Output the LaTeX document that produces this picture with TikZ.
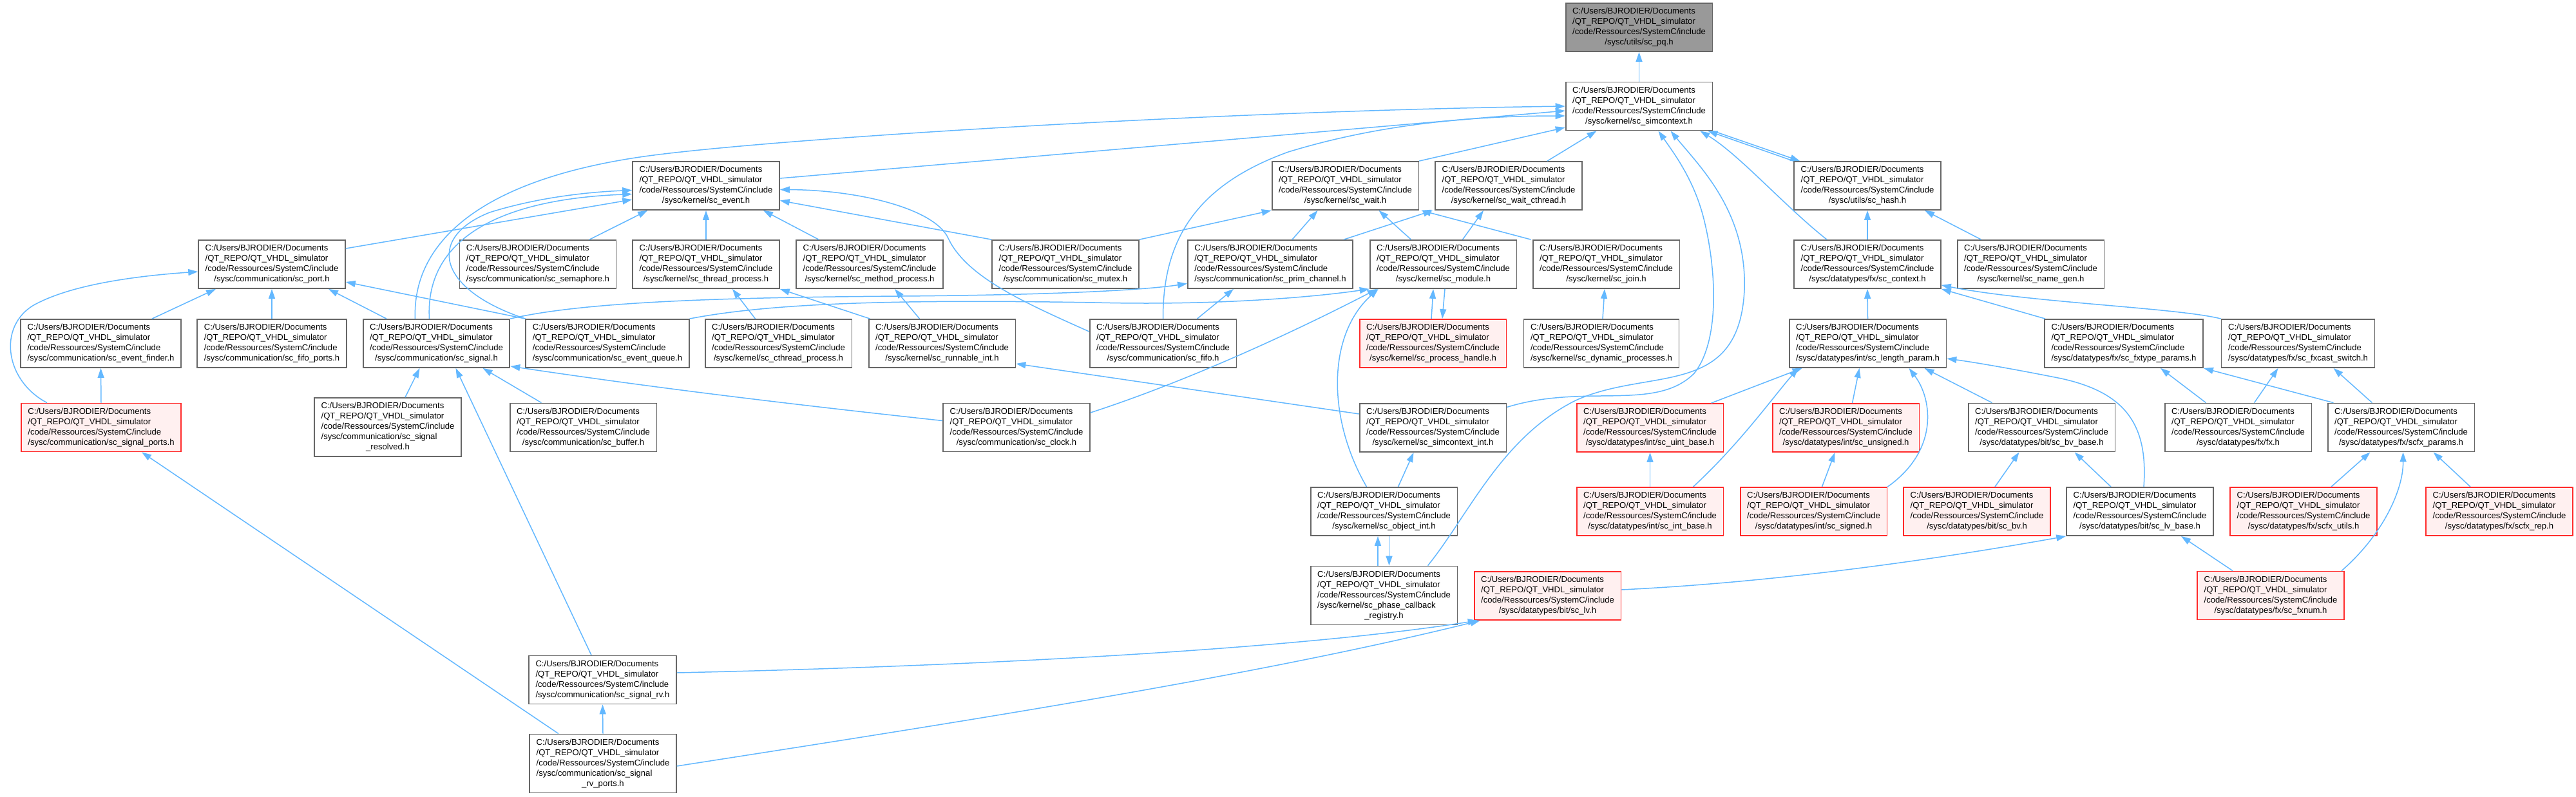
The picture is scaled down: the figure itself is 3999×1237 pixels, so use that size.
\documentclass[tikz,border=0pt]{standalone}
\usepackage{fontspec}
\newfontfamily\lbfont{Liberation Sans}
\usetikzlibrary{arrows.meta}
\definecolor{edgeblue}{HTML}{63B8FF}
\definecolor{boxgray}{HTML}{666666}
\definecolor{boxred}{HTML}{FF2A2A}
\definecolor{redfill}{HTML}{FFF0F0}
\definecolor{rootfill}{HTML}{999999}
\newcommand\pathlbl[1]{\begin{tabular}{@{}l@{}}C:/Users/BJRODIER/Documents\\/QT\_REPO/QT\_VHDL\_simulator\\/code/Ressources/SystemC/include\\\multicolumn{1}{@{}c@{}}{#1}\end{tabular}}
\newcommand\pathlblii[2]{\begin{tabular}{@{}l@{}}C:/Users/BJRODIER/Documents\\/QT\_REPO/QT\_VHDL\_simulator\\/code/Ressources/SystemC/include\\#1\\\multicolumn{1}{@{}c@{}}{#2}\end{tabular}}
\begin{document}
\begin{tikzpicture}[x=1pt,y=-1pt,
  fbox/.style={draw=boxgray, line width=1.8pt, fill=white, inner xsep=10.5pt, inner ysep=5.5pt,
    font={\lbfont\fontsize{13.1}{16}\selectfont}, anchor=center},
  redbox/.style={fbox, draw=boxred, fill=redfill},
  rootbox/.style={fbox, fill=rootfill},
  dep/.style={draw=edgeblue, line width=1.5pt, -{Triangle[length=15pt,width=10pt]}}]
\useasboundingbox (0,0) rectangle (3999,1237);
\fill[white] (0,0) rectangle (3999,1237);
% row 0-2
\node[rootbox] (pq) at (2544.5,42.5) {\pathlbl{/sysc/utils/sc\_pq.h}};
\node[fbox] (simcontext) at (2544.5,165) {\pathlbl{/sysc/kernel/sc\_simcontext.h}};
\node[fbox] (event) at (1096,288.5) {\pathlbl{/sysc/kernel/sc\_event.h}};
\node[fbox] (wait) at (2088.5,288.5) {\pathlbl{/sysc/kernel/sc\_wait.h}};
\node[fbox] (waitcth) at (2342,288.5) {\pathlbl{/sysc/kernel/sc\_wait\_cthread.h}};
\node[fbox] (hash) at (2899,288.5) {\pathlbl{/sysc/utils/sc\_hash.h}};
% row 3
\node[fbox] (port) at (422,410.5) {\pathlbl{/sysc/communication/sc\_port.h}};
\node[fbox] (semaphore) at (835,410.5) {\pathlbl{/sysc/communication/sc\_semaphore.h}};
\node[fbox] (threadproc) at (1096,410.5) {\pathlbl{/sysc/kernel/sc\_thread\_process.h}};
\node[fbox] (methodproc) at (1350,410.5) {\pathlbl{/sysc/kernel/sc\_method\_process.h}};
\node[fbox] (mutex) at (1654,410.5) {\pathlbl{/sysc/communication/sc\_mutex.h}};
\node[fbox] (primch) at (1972,410.5) {\pathlbl{/sysc/communication/sc\_prim\_channel.h}};
\node[fbox] (module) at (2240.5,410.5) {\pathlbl{/sysc/kernel/sc\_module.h}};
\node[fbox] (join) at (2493.5,410.5) {\pathlbl{/sysc/kernel/sc\_join.h}};
\node[fbox] (context) at (2899,410.5) {\pathlbl{/sysc/datatypes/fx/sc\_context.h}};
\node[fbox] (namegen) at (3152.5,410.5) {\pathlbl{/sysc/kernel/sc\_name\_gen.h}};
% row 4
\node[fbox] (evfinder) at (156.5,533.5) {\pathlbl{/sysc/communication/sc\_event\_finder.h}};
\node[fbox] (fifoports) at (422,533.5) {\pathlbl{/sysc/communication/sc\_fifo\_ports.h}};
\node[fbox] (signal) at (677.5,533.5) {\pathlbl{/sysc/communication/sc\_signal.h}};
\node[fbox] (evqueue) at (943,533.5) {\pathlbl{/sysc/communication/sc\_event\_queue.h}};
\node[fbox] (cthproc) at (1208.5,533.5) {\pathlbl{/sysc/kernel/sc\_cthread\_process.h}};
\node[fbox] (runnable) at (1462.5,533.5) {\pathlbl{/sysc/kernel/sc\_runnable\_int.h}};
\node[fbox] (fifo) at (1805.5,533.5) {\pathlbl{/sysc/communication/sc\_fifo.h}};
\node[redbox] (prochandle) at (2224.5,533.5) {\pathlbl{/sysc/kernel/sc\_process\_handle.h}};
\node[fbox] (dynproc) at (2486,533.5) {\pathlbl{/sysc/kernel/sc\_dynamic\_processes.h}};
\node[fbox] (lenparam) at (2899.5,533.5) {\pathlbl{/sysc/datatypes/int/sc\_length\_param.h}};
\node[fbox] (fxtype) at (3297,533.5) {\pathlbl{/sysc/datatypes/fx/sc\_fxtype\_params.h}};
\node[fbox] (fxcast) at (3567.5,533.5) {\pathlbl{/sysc/datatypes/fx/sc\_fxcast\_switch.h}};
% row 5
\node[redbox] (sigports) at (157,664) {\pathlbl{/sysc/communication/sc\_signal\_ports.h}};
\node[fbox] (sigresolved) at (602,663.5) {\pathlblii{/sysc/communication/sc\_signal}{\_resolved.h}};
\node[fbox] (buffer) at (905.5,664) {\pathlbl{/sysc/communication/sc\_buffer.h}};
\node[fbox] (clock) at (1578,664) {\pathlbl{/sysc/communication/sc\_clock.h}};
\node[fbox] (simctxint) at (2224.5,664.5) {\pathlbl{/sysc/kernel/sc\_simcontext\_int.h}};
\node[redbox] (uintbase) at (2561.5,664.5) {\pathlbl{/sysc/datatypes/int/sc\_uint\_base.h}};
\node[redbox] (unsig) at (2865.5,664.5) {\pathlbl{/sysc/datatypes/int/sc\_unsigned.h}};
\node[fbox] (bvbase) at (3169.5,664) {\pathlbl{/sysc/datatypes/bit/sc\_bv\_base.h}};
\node[fbox] (fxh) at (3474.5,664) {\pathlbl{/sysc/datatypes/fx/fx.h}};
\node[fbox] (scfxparams) at (3727.5,664) {\pathlbl{/sysc/datatypes/fx/scfx\_params.h}};
% row 6
\node[fbox] (objint) at (2148.5,794.5) {\pathlbl{/sysc/kernel/sc\_object\_int.h}};
\node[redbox] (intbase) at (2561.5,794.5) {\pathlbl{/sysc/datatypes/int/sc\_int\_base.h}};
\node[redbox] (sig) at (2815.5,794.5) {\pathlbl{/sysc/datatypes/int/sc\_signed.h}};
\node[redbox] (bvh) at (3069,794.5) {\pathlbl{/sysc/datatypes/bit/sc\_bv.h}};
\node[fbox] (lvbase) at (3322,794.5) {\pathlbl{/sysc/datatypes/bit/sc\_lv\_base.h}};
\node[redbox] (scfxutils) at (3576,794.5) {\pathlbl{/sysc/datatypes/fx/scfx\_utils.h}};
\node[redbox] (scfxrep) at (3880,794.5) {\pathlbl{/sysc/datatypes/fx/scfx\_rep.h}};
% row 7+
\node[fbox] (phasecb) at (2148.5,925) {\pathlblii{/sysc/kernel/sc\_phase\_callback}{\_registry.h}};
\node[redbox] (lvh) at (2402.5,925.5) {\pathlbl{/sysc/datatypes/bit/sc\_lv.h}};
\node[redbox] (fxnum) at (3525,925) {\pathlbl{/sysc/datatypes/fx/sc\_fxnum.h}};
\node[fbox] (sigrv) at (935.5,1056) {\pathlbl{/sysc/communication/sc\_signal\_rv.h}};
\node[fbox] (sigrvports) at (936,1186) {\pathlblii{/sysc/communication/sc\_signal}{\_rv\_ports.h}};

% edges (includer -> included)
\draw[dep] (simcontext.north) -- (pq.south);
\draw[dep] ([yshift=11.5pt]event.east) -- ([yshift=-7pt]simcontext.west);
\draw[dep] ([xshift=-33pt]signal.north) .. controls (640,380) and (740,280) .. (1000,243) .. controls (1200,215) and (1900,172) .. (simcontext.west);
\draw[dep] (fifo.north) .. controls (1805,380) and (1850,290) .. (2000,236) .. controls (2150,190) and (2300,180) .. ([yshift=-15pt]simcontext.west);
\draw[dep] (wait.north east) -- ([yshift=-33pt]simcontext.west);
\draw[dep] ([xshift=60pt]waitcth.north) -- ([xshift=-66pt]simcontext.south);
\draw[dep] (simcontext.south east) -- ([xshift=10pt]hash.north west);
\draw[dep] (hash.north west) -- ([xshift=-8pt]simcontext.south east);
\draw[dep] ([xshift=-63pt]context.north) .. controls (2770,320) and (2700,240) .. ([xshift=-20pt]simcontext.south east);
\draw[dep] ([yshift=32pt]simctxint.east) .. controls (2460,595) and (2570,640) .. (2630,580) .. controls (2670,530) and (2665,420) .. (2645,340) .. controls (2630,280) and (2600,240) .. ([xshift=30pt]simcontext.south);
\draw[dep] ([xshift=68pt]phasecb.north) .. controls (2280,800) and (2330,680) .. (2446,622) .. controls (2560,570) and (2700,620) .. (2708,450) .. controls (2712,330) and (2640,260) .. ([xshift=49pt]simcontext.south);
\draw[dep] ([xshift=-27pt]objint.north) .. controls (2060,650) and (2060,520) .. ([xshift=14pt]module.south west);
\draw[dep] ([xshift=-9.5pt]phasecb.north) -- ([xshift=-9.5pt]objint.south);
\draw[dep] ([xshift=8pt]objint.south) -- ([xshift=8pt]phasecb.north);
\draw[dep] ([xshift=22pt]objint.north) -- ([xshift=-30pt]simctxint.south);
\draw[dep] ([xshift=-2.5pt]prochandle.north) -- ([xshift=-15.5pt]module.south);
\draw[dep] ([xshift=2.5pt]module.south) -- ([xshift=14.5pt]prochandle.north);
\draw[dep] ([xshift=2pt]dynproc.north) -- ([xshift=-2.5pt]join.south);
\draw[dep] (lenparam.north) -- (context.south);
\draw[dep] ([xshift=95pt]uintbase.north) -- ([xshift=-102pt]lenparam.south);
\draw[dep] ([xshift=10pt]unsig.north) -- ([xshift=-13pt]lenparam.south);
\draw[dep] ([xshift=67pt]intbase.north) .. controls (2700,690) and (2750,620) .. ([xshift=-108pt]lenparam.south);
\draw[dep] (intbase.north) -- (uintbase.south);
\draw[dep] ([xshift=13pt]sig.north) -- ([xshift=-17pt]unsig.south);
\draw[dep] (sig.north east) .. controls (3010,700) and (3000,620) .. ([xshift=64pt]lenparam.south);
\draw[dep] ([xshift=-77pt]bvbase.north) -- ([xshift=88pt]lenparam.south);
\draw[dep] ([xshift=6pt]lvbase.north) .. controls (3335,660) and (3300,610) .. (3200,588) .. controls (3120,572) and (3060,562) .. ([yshift=-23.5pt]lenparam.east);
\draw[dep] ([xshift=28pt]bvh.north) -- ([xshift=-35pt]bvbase.south);
\draw[dep] ([xshift=-45pt]lvbase.north) -- ([xshift=51pt]bvbase.south);
\draw[dep] ([yshift=9.5pt]lvh.east) .. controls (2750,905) and (3000,870) .. (lvbase.south west);
\draw[dep] ([xshift=-59pt]fxnum.north) -- ([xshift=64pt]lvbase.south);
\draw[dep] ([xshift=110pt]fxnum.north) .. controls (3700,830) and (3731,760) .. ([xshift=3pt]scfxparams.south);
\draw[dep] ([xshift=43pt]scfxutils.north) -- ([xshift=-48pt]scfxparams.south);
\draw[dep] ([xshift=-45pt]scfxrep.north) -- ([xshift=50pt]scfxparams.south);
\draw[dep] ([xshift=-50pt]fxh.north) -- ([xshift=57pt]fxtype.south);
\draw[dep] ([xshift=25pt]fxh.north) -- ([xshift=-31pt]fxcast.south);
\draw[dep] ([xshift=-105pt]scfxparams.north) -- (fxtype.south east);
\draw[dep] ([xshift=-45pt]scfxparams.north) -- ([xshift=55pt]fxcast.south);
\draw[dep] ([xshift=-122pt]fxtype.north) -- (context.south east);
\draw[dep] (fxcast.north west) .. controls (3380,478) and (3150,470) .. ([yshift=6pt]context.south east);
\draw[dep] ([xshift=-77pt]namegen.north) -- ([xshift=89pt]hash.south);
\draw[dep] (context.north) -- (hash.south);
\draw[dep] (mutex.north east) -- (wait.south west);
\draw[dep] ([xshift=34pt]primch.north) -- ([xshift=-43pt]wait.south);
\draw[dep] ([xshift=114pt]primch.north) -- ([xshift=-3pt]waitcth.south west);
\draw[dep] ([xshift=-117pt]join.north) -- ([xshift=3pt]wait.south east);
\draw[dep] ([xshift=-50pt]module.north) -- ([xshift=52pt]wait.south);
\draw[dep] ([xshift=30pt]module.north) -- ([xshift=-39pt]waitcth.south);
\draw[dep] ([xshift=53pt]fifo.north) -- ([xshift=-57pt]primch.south);
\draw[dep] ([yshift=18.5pt]fifo.west) .. controls (1590,470) and (1500,430) .. (1472,370) .. controls (1450,323) and (1330,295) .. ([yshift=-6pt]event.east);
\draw[dep] (mutex.north west) -- ([yshift=-23pt]event.east);
\draw[dep] ([xshift=-79pt]methodproc.north) -- ([xshift=89pt]event.south);
\draw[dep] (threadproc.north) -- (event.south);
\draw[dep] ([xshift=-36pt]cthproc.north) -- ([xshift=41pt]threadproc.south);
\draw[dep] ([xshift=-112pt]runnable.north) -- (threadproc.south east);
\draw[dep] ([xshift=-35pt]runnable.north) -- ([xshift=39pt]methodproc.south);
\draw[dep] ([yshift=21.5pt]simctxint.west) -- ([yshift=-31.5pt]runnable.east);
\draw[dep] (signal.north east) .. controls (900,470) and (1100,462) .. (1400,460) .. controls (1650,458) and (1780,450) .. ([yshift=-30pt]primch.west);
\draw[dep] (evqueue.north east) .. controls (1200,470) and (1400,465) .. (1700,470) .. controls (1900,475) and (2050,460) .. (module.south west);
\draw[dep] ([yshift=10.5pt]clock.west) .. controls (1200,625) and (1000,600) .. ([yshift=3pt]signal.south east);
\draw[dep] ([yshift=23pt]clock.east) .. controls (1850,590) and (2020,510) .. ([xshift=12pt]module.south west);
\draw[dep] ([xshift=80pt]semaphore.north) -- ([xshift=24pt]event.south west);
\draw[dep] ([yshift=24.5pt]port.east) -- ([yshift=-21.5pt]event.west);
\draw[dep] ([xshift=-11pt]signal.north) .. controls (660,380) and (760,310) .. ([yshift=-13pt]event.west);
\draw[dep] (evqueue.north west) .. controls (680,450) and (660,370) .. (760,330) .. controls (840,305) and (920,298) .. ([yshift=-7pt]event.west);
\draw[dep] (evqueue.north west) -- ([yshift=-27.5pt]port.east);
\draw[dep] ([xshift=-77.5pt]signal.north) -- ([xshift=88pt]port.south);
\draw[dep] ([xshift=79.5pt]evfinder.north) -- ([xshift=-87pt]port.south);
\draw[dep] (fifoports.north) -- (port.south);
\draw[dep] ([xshift=-84pt]sigports.north) .. controls (5,590) and (-5,500) .. (60,470) .. controls (120,440) and (220,428) .. ([yshift=-11.5pt]port.west);
\draw[dep] (sigports.north) -- (evfinder.south);
\draw[dep] ([xshift=27pt]sigresolved.north) -- ([xshift=-26pt]signal.south);
\draw[dep] ([xshift=-65pt]buffer.north) -- ([xshift=72pt]signal.south);
\draw[dep] ([xshift=-17.5pt]sigrv.north) -- ([xshift=30pt]signal.south);
\draw[dep] ([xshift=-69pt]sigrvports.north) -- ([xshift=63pt]sigports.south);
\draw[dep] (sigrvports.north) -- (sigrv.south);
\draw[dep] ([yshift=11pt]sigrv.east) .. controls (1500,1035) and (2000,1010) .. ([xshift=6pt]lvh.south west);
\draw[dep] ([yshift=-4pt]sigrvports.east) .. controls (1500,1120) and (1950,1050) .. ([xshift=10pt]lvh.south west);
\end{tikzpicture}
\end{document}
